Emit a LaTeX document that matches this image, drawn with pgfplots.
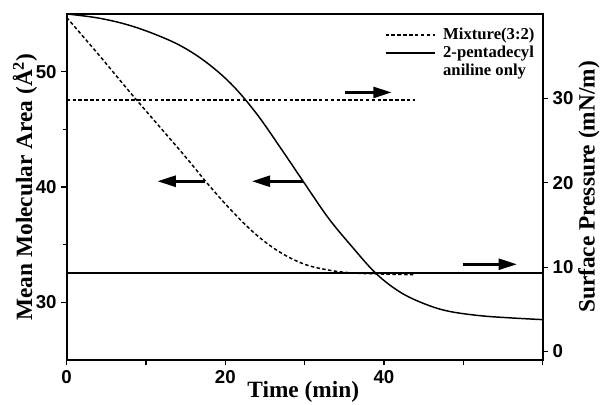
\documentclass[border=0pt]{standalone}
\usepackage{fontspec}
\setmainfont{Liberation Serif}
\setsansfont{Liberation Sans}
\usepackage{pgfplots}
\pgfplotsset{compat=1.18}
\usetikzlibrary{arrows.meta}
\tikzset{
  dsh/.style={black, line width=1.1pt, dash pattern=on 2.6pt off 1.8pt},
  sld/.style={black, line width=1.1pt},
  arr/.style={black, line width=2.6pt, -{Triangle[length=14pt,width=8pt]}},
}
\begin{document}
\begin{tikzpicture}[x=1pt,y=1pt]
\useasboundingbox (-50,-33) rectangle (400,270);
\pgfplotsset{
  common/.style={
    at={(0,0)}, anchor=south west, scale only axis,
    width=357pt, height=259.5pt,
    xmin=0, xmax=60,
    tick align=outside, major tick length=4pt, minor tick length=3pt,
    tick style={line width=1pt, black},
    axis line style={-, line width=1.6pt},
    ticklabel style={font=\sffamily\bfseries\fontsize{14}{14}\selectfont},
    /pgf/number format/assume math mode=true,
    label style={font=\bfseries\fontsize{17.5}{18}\selectfont},
  },
}
\begin{axis}[common,
  ymin=25, ymax=55,
  xtick={0,10,...,60}, xticklabels={0,,20,,40,,},
  ytick={30,40,50}, minor ytick={35,45},
  xtick pos=bottom, ytick pos=left,
  xlabel={Time (min)},
  ylabel={Mean Molecular Area (Å\textsuperscript{2})},
  xlabel style={at={(rel axis cs:0.497,-0.091)}, anchor=center},
  ylabel style={at={(rel axis cs:-0.0876,0.5)}, anchor=center},
  legend cell align=left,
  legend image code/.code={\draw[#1] (0pt,0pt) -- (37pt,0pt);},
  legend style={draw=none, fill=none, inner sep=0pt,
    at={(rel axis cs:0.668,0.962)}, anchor=north west,
    font=\bfseries\fontsize{12.5}{12.5}\selectfont, row sep=2.2pt,
    nodes={inner sep=0.6pt},
    /tikz/every odd column/.append style={column sep=5pt}},
]
\addplot[dsh, smooth, tension=0.6] coordinates {
 (0,54.7) (4,51.5) (8,48.2) (12,45.0) (15,42.6) (18,40.1) (21,37.8)
 (24,35.8) (27,34.3) (30,33.3) (33,32.8) (36,32.55) (40,32.45) (43.7,32.4)};
\addlegendentry{Mixture(3:2)}
\addplot[sld, smooth, tension=0.6] coordinates {
 (0,55) (4,54.65) (8,54.0) (12,53.0) (15,52.0) (18,50.6) (21,48.75)
 (24,46.3) (27,43.35) (30,40.3) (33,37.3) (36,34.8) (39,32.5) (42,30.9)
 (45,29.9) (48,29.25) (52,28.85) (56,28.65) (60,28.5)};
\addlegendentry{2-pentadecyl}
\addlegendimage{empty legend}
\addlegendentry{aniline only}
\draw[arr] (axis cs:17.5,40.5) -- (axis cs:11.4,40.5);
\draw[arr] (axis cs:29.8,40.5) -- (axis cs:23.3,40.5);
\draw[arr] (axis cs:35.1,48.2) -- (axis cs:41.0,48.2);
\draw[arr] (axis cs:49.9,33.3) -- (axis cs:56.8,33.3);
\end{axis}
\begin{axis}[common,
  ymin=-1, ymax=40,
  axis x line=none, axis y line*=right,
  ytick={0,10,20,30},
  ylabel={Surface Pressure (mN/m)},
  ylabel style={at={(rel axis cs:1.097,0.5)}, anchor=center},
]
\addplot[dsh] coordinates {(0,29.8) (43.9,29.8)};
\addplot[sld] coordinates {(0,9.3) (60,9.3)};
\end{axis}
\end{tikzpicture}
\end{document}
